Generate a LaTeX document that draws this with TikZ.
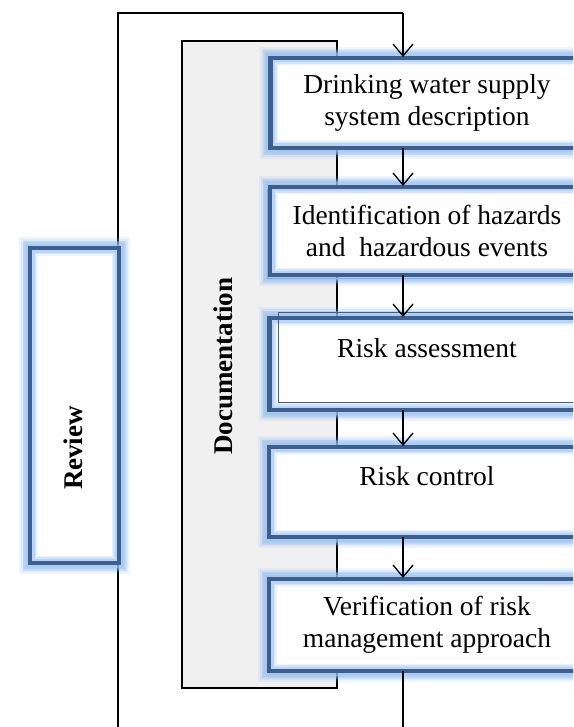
\documentclass[tikz,border=0pt]{standalone}
\usepackage{fontspec}
\setmainfont{Liberation Serif}
\usetikzlibrary{arrows.meta}
\definecolor{bord}{HTML}{3D5F8F}
\definecolor{glowout}{HTML}{7FB0EC}
\definecolor{glowin}{HTML}{9CC3F0}
\definecolor{docfill}{HTML}{F0F0F0}
\tikzset{
  glowbox/.style={rectangle, inner sep=0pt, outer sep=0pt, align=center,
    font=\fontsize{27.5}{32}\selectfont,
    preaction={draw=glowout, line width=22pt, opacity=0.12},
    preaction={draw=glowout, line width=18pt, opacity=0.16},
    preaction={draw=glowout, line width=14pt, opacity=0.2},
    fill=white,
    postaction={draw=glowin, line width=15pt, opacity=0.2},
    postaction={draw=glowin, line width=12pt, opacity=0.3},
    postaction={draw=glowin, line width=9pt, opacity=0.45},
    postaction={draw=bord, line width=4.5pt}},
  docbox/.style={rectangle, draw=black, fill=docfill, line width=1.3pt, inner sep=0pt},
  vlabel/.style={rotate=90, font=\fontsize{27}{32}\selectfont\bfseries},
  conn/.style={draw=black, line width=1.3pt},
  arr/.style={conn, -{Straight Barb[length=12pt,width=20pt,line width=1.3pt]}, shorten >=1pt},
  thinline/.style={draw=bord, line width=1pt}
}
\begin{document}
\begin{tikzpicture}[x=1pt,y=-1pt]
\useasboundingbox (0,0) rectangle (573,727);
\clip (0,0) rectangle (573,727);
% documentation box
\node[docbox, minimum width=155pt, minimum height=647pt] (doc) at (259.5,364.5) {};
\node[vlabel] (doclbl) at (223,366) {Documentation};
% loop coordinates
\coordinate (ax) at (403,0);
\coordinate (lb) at (403,745);
\coordinate (lbl) at (118,745);
\coordinate (ltl) at (118,13);
\coordinate (ltr) at (403,13);
% thin offset outlines behind boxes
\draw[thinline] (268,60) rectangle (600,148);
\draw[thinline] (267,190) rectangle (600,278);
% main boxes
\node[glowbox, minimum width=313pt, minimum height=90pt] (b1) at (427,103) {Drinking water supply\\system description};
\node[glowbox, minimum width=314pt, minimum height=88pt] (b2) at (427,231) {Identification of hazards\\and\ \ hazardous events};
\node[glowbox, minimum width=315pt, minimum height=92pt] (b3) at (427,364) {Risk assessment\\\mbox{}};
\node[glowbox, minimum width=316pt, minimum height=90pt] (b4) at (427,492) {Risk control\\\mbox{}};
\node[glowbox, minimum width=316pt, minimum height=92pt] (b5) at (427,625) {Verification of risk\\management approach};
\draw[thinline] (278,312) -- (600,312) (278,312) -- (278,402) -- (600,402);
% loop connector
\draw[conn] (b5.south -| ax) -- (lb) -- (lbl) -- (ltl) -- (ltr);
\draw[arr] (ltr) -- (b1.north -| ax);
% review box on the loop
\node[glowbox, minimum width=89pt, minimum height=315pt] (rev) at (74.5,405.5) {};
\node[vlabel] (revlbl) at (73,448) {Review};
% arrows between steps
\draw[arr] (b1.south -| ax) -- (b2.north -| ax);
\draw[arr] (b2.south -| ax) -- (b3.north -| ax);
\draw[arr] (b3.south -| ax) -- (b4.north -| ax);
\draw[arr] (b4.south -| ax) -- (b5.north -| ax);
\end{tikzpicture}
\end{document}
